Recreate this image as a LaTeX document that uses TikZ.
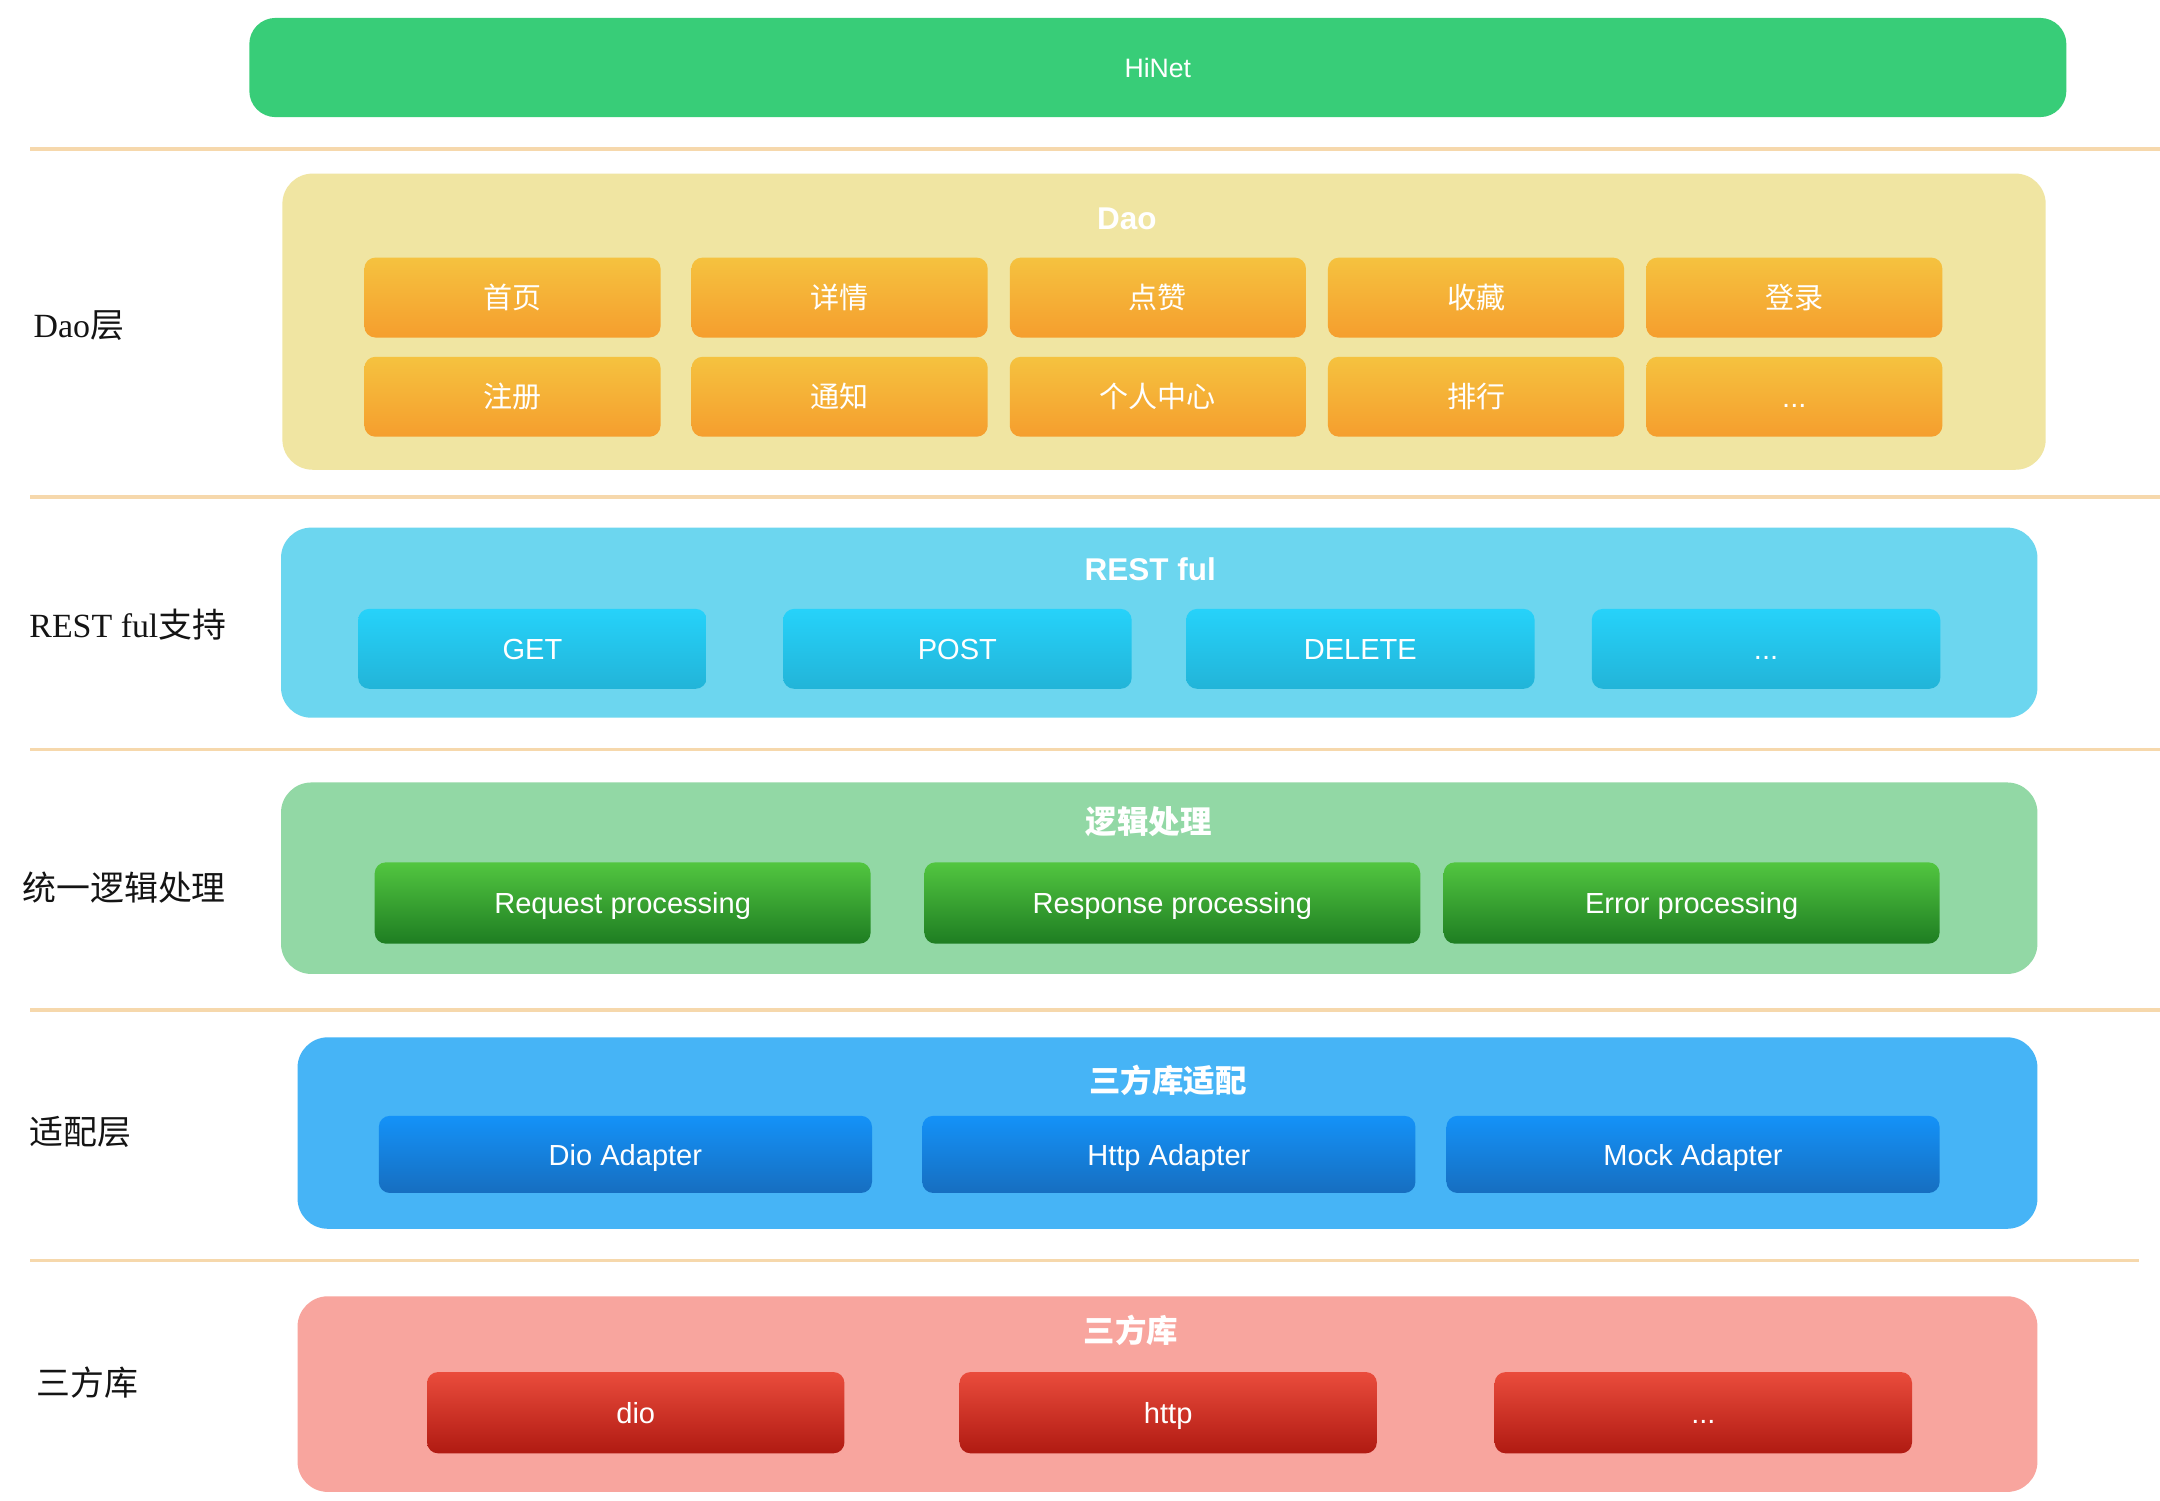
\documentclass[tikz,border=0pt]{standalone}
\usepackage{fontspec}
\setmainfont{Liberation Serif}
\newfontfamily\cjk{Noto Sans CJK SC}
\newfontfamily\helv{Liberation Sans}
\usepackage{tikz}
\definecolor{hinet}{RGB}{56,205,120}
\definecolor{sepline}{RGB}{246,216,172}
\definecolor{sidetext}{RGB}{20,20,20}
\definecolor{daobg}{RGB}{240,229,162}
\definecolor{daotop}{RGB}{245,194,63}
\definecolor{daobot}{RGB}{245,158,46}
\definecolor{restbg}{RGB}{108,214,239}
\definecolor{resttop}{RGB}{38,210,250}
\definecolor{restbot}{RGB}{34,180,216}
\definecolor{logicbg}{RGB}{146,216,165}
\definecolor{logictop}{RGB}{82,198,64}
\definecolor{logicbot}{RGB}{30,125,34}
\definecolor{adaptbg}{RGB}{70,180,246}
\definecolor{adapttop}{RGB}{20,146,248}
\definecolor{adaptbot}{RGB}{22,110,192}
\definecolor{libbg}{RGB}{248,165,158}
\definecolor{libtop}{RGB}{234,76,60}
\definecolor{libbot}{RGB}{176,26,18}
\tikzstyle{layer} = [rounded corners=4.4mm, inner sep=0pt, draw=none]
\tikzstyle{btn} = [rounded corners=1.6mm, inner sep=0pt, text height=10.8pt, text depth=2pt, text=white, font=\helv\fontsize{12}{14}\selectfont]
\tikzstyle{daobtn} = [btn, minimum width=43mm, minimum height=11.6mm, top color=daotop, bottom color=daobot]
\tikzstyle{restbtn} = [btn, minimum width=50.6mm, minimum height=11.6mm, top color=resttop, bottom color=restbot]
\tikzstyle{logicbtn} = [btn, minimum width=72mm, minimum height=11.8mm, top color=logictop, bottom color=logicbot]
\tikzstyle{adaptbtn} = [btn, minimum width=71.6mm, minimum height=11.2mm, top color=adapttop, bottom color=adaptbot]
\tikzstyle{libbtn} = [btn, minimum width=60.6mm, minimum height=11.8mm, top color=libtop, bottom color=libbot]
\tikzstyle{title} = [text=white, text height=11.6pt, text depth=2.2pt, font=\helv\bfseries\fontsize{13}{15}\selectfont]
\tikzstyle{side} = [anchor=west, inner sep=0pt, text height=12.4pt, text depth=2.4pt, text=sidetext, font=\fontsize{14}{16}\selectfont]
\tikzstyle{sep} = [draw=sepline, line width=0.55mm]

\begin{document}
\begin{tikzpicture}[x=0.2mm, y=-0.2mm]
			\fill[white] (0,0) rectangle (1568,1089);
			\useasboundingbox (0,0) rectangle (1568,1089);
			\node[layer, fill=hinet, rounded corners=3.8mm, minimum width=263.8mm, minimum height=14.4mm, text=white, font=\helv\fontsize{11}{13}\selectfont] (hinet) at (840.5,49) {HiNet};
			\draw[sep] (22,108) -- (1568,108);
			\draw[sep] (22,361) -- (1568,361);
			\draw[sep] (22,544) -- (1568,544);
			\draw[sep] (22,733) -- (1568,733);
			\draw[sep] (22,915) -- (1553,915);

			\node[side] (sdao) at (24,236) {Dao{\cjk 层}};
			\node[layer, fill=daobg, minimum width=256mm, minimum height=43mm] (dao) at (845,233.5) {};
			\node[title] (daot) at (818,158) {Dao};
			\node[daobtn] (home) at (372,216) {\cjk 首页};
			\node[daobtn] (detail) at (609.5,216) {\cjk 详情};
			\node[daobtn] (like) at (840.5,216) {\cjk 点赞};
			\node[daobtn] (fav) at (1071.5,216) {\cjk 收藏};
			\node[daobtn] (login) at (1302.5,216) {\cjk 登录};
			\node[daobtn] (reg) at (372,288) {\cjk 注册};
			\node[daobtn] (notice) at (609.5,288) {\cjk 通知};
			\node[daobtn] (mine) at (840.5,288) {\cjk 个人中心};
			\node[daobtn] (rank) at (1071.5,288) {\cjk 排行};
			\node[daobtn] (daomore) at (1302.5,288) {...};

			\node[side] (srest) at (21,454) {REST ful{\cjk 支持}};
			\node[layer, fill=restbg, minimum width=255mm, minimum height=27.6mm] (rest) at (841.5,452) {};
			\node[title] (restt) at (835,413) {REST ful};
			\node[restbtn] (get) at (386.5,471) {GET};
			\node[restbtn] (post) at (695,471) {POST};
			\node[restbtn] (delete) at (987.5,471) {DELETE};
			\node[restbtn] (restmore) at (1282,471) {...};

			\node[side] (slogic) at (16,645) {\cjk 统一逻辑处理};
			\node[layer, fill=logicbg, minimum width=255mm, minimum height=27.8mm] (logic) at (841.5,637.5) {};
			\node[title] (logict) at (834,597) {\cjk 逻辑处理};
			\node[logicbtn] (req) at (452,655.5) {Request processing};
			\node[logicbtn] (resp) at (851,655.5) {Response processing};
			\node[logicbtn] (err) at (1228,655.5) {Error processing};

			\node[side] (sadapt) at (21,822) {\cjk 适配层};
			\node[layer, fill=adaptbg, minimum width=252.6mm, minimum height=27.8mm] (adapt) at (847.5,822.5) {};
			\node[title] (adaptt) at (848,785) {\cjk 三方库适配};
			\node[adaptbtn] (dioad) at (454,838) {Dio Adapter};
			\node[adaptbtn] (httpad) at (848.5,838) {Http Adapter};
			\node[adaptbtn] (mockad) at (1229,838) {Mock Adapter};

			\node[side] (slib) at (26,1004) {\cjk 三方库};
			\node[layer, fill=libbg, minimum width=252.6mm, minimum height=28.4mm] (lib) at (847.5,1012) {};
			\node[title] (libt) at (821,966) {\cjk 三方库};
			\node[libbtn] (dio) at (461.5,1025.5) {dio};
			\node[libbtn] (http) at (848,1025.5) {http};
			\node[libbtn] (libmore) at (1236.5,1025.5) {...};
		\end{tikzpicture}
\end{document}
